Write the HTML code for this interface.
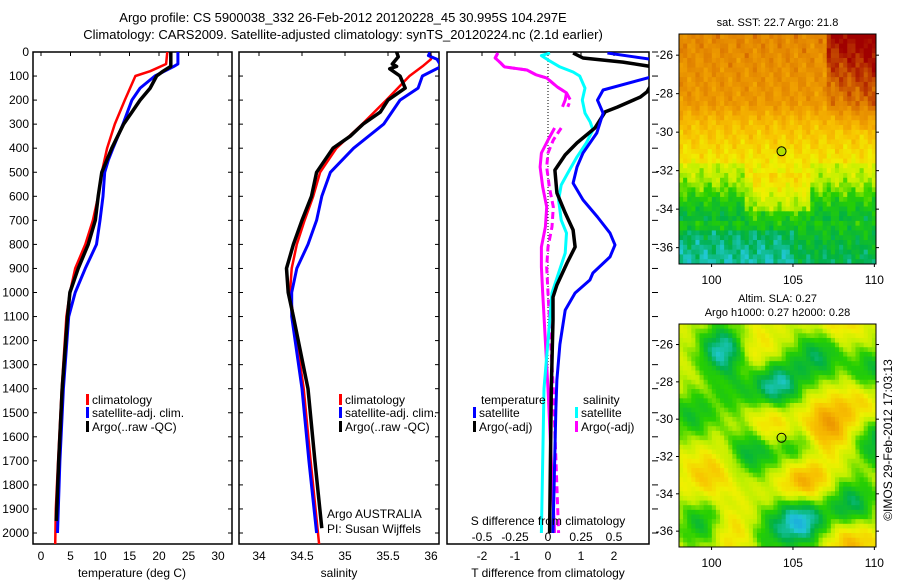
<!DOCTYPE html>
<html><head><meta charset="utf-8"><style>
body{margin:0;background:#fff}
svg{display:block;font-family:"Liberation Sans",sans-serif}
</style></head><body>
<svg id="fig" width="900" height="580" viewBox="0 0 900 580" xmlns="http://www.w3.org/2000/svg">
<rect width="900" height="580" fill="#fff"/>
<text x="343" y="22" font-size="13" text-anchor="middle">Argo profile: CS 5900038_332 26-Feb-2012 20120228_45 30.995S 104.297E</text>
<text x="343" y="39" font-size="13" text-anchor="middle">Climatology: CARS2009. Satellite-adjusted climatology: synTS_20120224.nc (2.1d earlier)</text>
<g id="g"></g>
<text transform="translate(892,440) rotate(-90)" font-size="12" text-anchor="middle">©IMOS 29-Feb-2012 17:03:13</text>
</svg>
<script>
// ---------- data ----------
const tClimDepth=[0,50,80,100,200,300,400,500,600,700,800,900,1000,1100,1400,1700,1900,2050];
const tClim=[21.4,21.2,18.5,16,14.2,12.5,11.2,10.3,9.7,8.8,7.5,5.8,4.9,4.3,3.5,2.9,2.5,2.4];
const tSatDepth=[0,50,60,100,150,200,300,400,450,500,600,700,800,900,1000,1100,1400,1700,2000];
const tSat=[23.2,23.2,22.5,19.3,16.8,15.4,13.9,12.2,11.4,10.8,10.5,10,9.4,7.5,5.8,4.7,3.8,3.2,2.8];
const tArgoDepth=[0,60,80,100,150,200,250,300,400,500,600,700,800,900,1000,1100,1400,1700,1950];
const tArgo=[22,22,20.7,19.6,18.5,16.8,15.4,14,12,10.3,9.7,9.2,8,6.3,4.9,4.5,3.6,3.0,2.6];

const sClimDepth=[0,30,60,100,200,300,400,500,600,700,800,900,1000,1100,1400,1700,2050];
const sClim=[35.99,36.0,35.9,35.75,35.48,35.2,34.9,34.71,34.63,34.53,34.44,34.38,34.36,34.4,34.52,34.6,34.7];
const sSatDepth=[0,15,30,60,100,150,200,300,400,500,600,700,800,900,1000,1100,1400,1700,2000];
const sSat=[35.99,35.97,36.07,36.12,35.9,35.85,35.64,35.45,35.1,34.83,34.73,34.67,34.57,34.44,34.38,34.38,34.5,34.58,34.67];
const sArgoDepth=[0,20,50,60,70,100,150,200,250,300,350,400,500,600,700,800,900,1000,1100,1400,1700,1980];
const sArgo=[35.6,35.62,35.55,35.6,35.52,35.64,35.7,35.5,35.41,35.21,35.06,34.86,34.67,34.61,34.5,34.4,34.32,34.34,34.4,34.57,34.65,34.73];

const dTsatDepth=[4,20,40,60,90,158,200,254,337,420,478,545,615,686,753,802,852,919,948,1002,1073,1216,1362,1480,2000];
const dTsat=[1.8,2.6,3.6,3.6,3.5,1.67,1.5,1.67,1.48,1.06,0.88,0.76,1.06,1.5,1.88,2.03,1.88,1.36,1.27,0.82,0.52,0.36,0.27,0.24,0.15];
const dTargoDepth=[4,25,42,62,120,166,187,229,249,316,378,428,491,586,669,740,811,877,969,1019,1114,1400,2000];
const dTargo=[0.76,1.06,2.27,3.2,3.2,3.0,2.8,2.1,1.73,1.42,0.88,0.52,0.21,0.27,0.52,0.76,0.82,0.58,0.27,0.15,0.15,0.1,0.05];
const dSsatDepth=[4,15,33,62,83,100,150,200,254,291,324,378,436,503,553,615,699,753,836,919,1002,1400,2000];
const dSsat=[0.015,-0.05,0,0.09,0.19,0.24,0.28,0.26,0.28,0.32,0.34,0.29,0.22,0.15,0.1,0.08,0.1,0.14,0.13,0.08,0.03,-0.03,-0.05];
const dSargoDepth=[4,25,45,62,75,95,108,145,170,200,228,228,316,366,420,478,561,644,727,811,894,1002,1400,2000];
const dSargo=[-0.38,-0.4,-0.36,-0.33,-0.16,-0.09,-0.01,0.07,0.14,0.13,0.11,null,0.05,0,-0.05,-0.06,-0.04,-0.01,-0.02,-0.05,-0.05,-0.04,0,0.05];
const dSargoAdj=[-0.38,-0.4,-0.36,-0.33,-0.16,-0.09,-0.01,0.07,0.14,0.17,0.15,null,0.1,0.04,0,-0.01,0.01,0.04,0.03,0,-0.01,0.0,0.04,0.08];

const depthTicks=[0,100,200,300,400,500,600,700,800,900,1000,1100,1200,1300,1400,1500,1600,1700,1800,1900,2000];
const tTicks=[0,5,10,15,20,25,30];
const sTicks=[34,34.5,35,35.5,36];
const sTickLabels=["34","34.5","35","35.5","36"];
const dtTicks=[-2,-1,0,1,2];
const dsTicks=[-0.5,-0.25,0,0.25,0.5];
const dsTickLabels=["-0.5","-0.25","0","0.25","0.5"];
const latTicks=[-26,-28,-30,-32,-34,-36];
const lonTicks=[100,105,110];
const argoLon=104.297, argoLat=-30.995;
// SST latitude profile (normalised colour level)
const sstLat=[-24.9,-28.5,-29.5,-31,-32.5,-33.5,-35,-36.9];
const sstLvl=[0.84,0.8,0.72,0.66,0.6,0.52,0.43,0.37];
// SLA blobs: lon, lat, amplitude
const slaLon=[100.8,104,106.5,109.8,102.6,105.3,110.2,105.5,108.6,99.5,98.8,103.6,107,105.7,102.5,99.8,109.2,108.6,101.2,103.5,101.5,107.8];
const slaLat=[-26.3,-28.2,-26.6,-27.5,-31.6,-31.5,-31.2,-35.4,-34.6,-35.6,-29.8,-30.4,-30.4,-33.3,-26.4,-33,-29,-36.6,-36,-36.1,-28.6,-24.6];
const slaAmp=[-0.3,-0.28,-0.2,-0.18,-0.22,-0.18,-0.2,-0.32,-0.22,-0.18,-0.15,0.18,0.22,0.22,0.12,0.12,0.12,0.16,0.12,-0.12,-0.1,0.1];

// ---------- scales ----------
const NS="http://www.w3.org/2000/svg";
const G=document.getElementById('g');
function el(tag,attrs,parent){const e=document.createElementNS(NS,tag);for(const k in attrs)e.setAttribute(k,attrs[k]);(parent||G).appendChild(e);return e;}
const yD=d=>52+d*0.2405;
const PB=544;
const xT=t=>41+t*5.9;
const xS=s=>259+(s-34)*86;
const xDT=v=>548+v*33;
const xDS=v=>548+v*132;

function clip(id,x0,x1){const c=el('clipPath',{id:id});el('rect',{x:x0,y:52,width:x1-x0,height:PB-52},c);}
clip('c1',33,232);clip('c2',239,439);clip('c3',447,649);

function line(depths,vals,xf,color,w,cp,name,dash){
  let d='',pen=false;
  for(let i=0;i<depths.length;i++){
    if(vals[i]===null){pen=false;continue;}
    d+=(pen?'L':'M')+xf(vals[i]).toFixed(1)+','+yD(depths[i]).toFixed(1);pen=true;
  }
  const p=el('path',{d:d,fill:'none',stroke:color,'stroke-width':w,'clip-path':'url(#'+cp+')','stroke-linejoin':'round'});
  if(dash)p.setAttribute('stroke-dasharray',dash);
  
  
}
function frame(x0,x1,name){
  const r=el('rect',{x:x0,y:52,width:x1-x0,height:PB-52,fill:'none',stroke:'#000','stroke-width':1.5});
  
  
  depthTicks.forEach(d=>{el('line',{x1:x0,x2:x0+4,y1:yD(d),y2:yD(d),stroke:'#000'});el('line',{x1:x1-4,x2:x1,y1:yD(d),y2:yD(d),stroke:'#000'});});
}
function xticks(ticks,labels,xf,y,name){
  ticks.forEach((t,i)=>{
    el('line',{x1:xf(t),x2:xf(t),y1:52,y2:56,stroke:'#000'});
    const tx=el('text',{x:xf(t),y:y,'font-size':12,'text-anchor':'middle'});
    tx.textContent=labels[i];
    
    
  });
}
function txt(x,y,s,name,anchor,size){
  const t=el('text',{x:x,y:y,'font-size':size||12,'text-anchor':anchor||'start'});t.textContent=s;
  
  
}
function legend(x,y,color,label,name){
  el('rect',{x:x,y:y-10,width:3,height:11,fill:color});
  txt(x+6,y,label,name);
}

depthTicks.forEach(d=>{
  const t=el('text',{x:29,y:yD(d)+4,'font-size':12,'text-anchor':'end'});t.textContent=String(d);
  
  
});

// panel 1
frame(33,232,'temperature-panel');
line(tClimDepth,tClim,xT,'#f00',2.5,'c1','temperature-climatology-line');
line(tSatDepth,tSat,xT,'#00f',3,'c1','temperature-satellite-line');
line(tArgoDepth,tArgo,xT,'#000',3.5,'c1','temperature-argo-line');
xticks(tTicks,tTicks.map(String),xT,560,'temperature-tick-label');
txt(132,577,'temperature (deg C)','temperature-axis-title','middle');
legend(86,404,'#f00','climatology','legend-climatology');
legend(86,417,'#00f','satellite-adj. clim.','legend-satellite');
legend(86,431,'#000','Argo(..raw -QC)','legend-argo');

// panel 2
frame(239,439,'salinity-panel');
line(sClimDepth,sClim,xS,'#f00',2.5,'c2','salinity-climatology-line');
line(sSatDepth,sSat,xS,'#00f',3,'c2','salinity-satellite-line');
line(sArgoDepth,sArgo,xS,'#000',3.5,'c2','salinity-argo-line');
xticks(sTicks,sTickLabels,xS,560,'salinity-tick-label');
txt(339,577,'salinity','salinity-axis-title','middle');
legend(339,404,'#f00','climatology','legend-climatology');
legend(339,417,'#00f','satellite-adj. clim.','legend-satellite');
legend(339,431,'#000','Argo(..raw -QC)','legend-argo');
txt(327,518,'Argo AUSTRALIA','argo-program-label');
txt(327,533,'PI: Susan Wijffels','pi-label');

// panel 3
el('rect',{x:447,y:52,width:202,height:PB-52,fill:'none',stroke:'#000','stroke-width':1.5});
depthTicks.forEach(d=>el('line',{x1:652,x2:658,y1:yD(d),y2:yD(d),stroke:'#000'}));
[-2,-1,0,1,2].forEach(t=>el('line',{x1:xDT(t),x2:xDT(t),y1:52,y2:56,stroke:'#000'}));
el('line',{x1:548,x2:548,y1:52,y2:yD(1400),stroke:'#000','stroke-dasharray':'1 2'});
line(dSargoDepth,dSargoAdj,xDS,'#f0f',3,'c3','salinity-diff-argo-adj-line','7 4');
line(dSargoDepth,dSargo,xDS,'#f0f',3,'c3','salinity-diff-argo-line');
line(dSsatDepth,dSsat,xDS,'#0ff',3,'c3','salinity-diff-satellite-line');
line(dTargoDepth,dTargo,xDT,'#000',3.5,'c3','temperature-diff-argo-line');
line(dTsatDepth,dTsat,xDT,'#00f',3,'c3','temperature-diff-satellite-line');
dtTicks.forEach(t=>{txt(xDT(t),560,String(t),'t-diff-tick-label','middle');});
dsTicks.forEach((t,i)=>{txt(xDS(t),541,dsTickLabels[i],'s-diff-tick-label','middle');});
txt(548,525,'S difference from climatology','s-diff-axis-title','middle');
txt(548,577,'T difference from climatology','t-diff-axis-title','middle');
txt(481,404,'temperature','legend-temperature-header');
legend(473,417,'#00f','satellite','legend-t-satellite');
legend(473,431,'#000','Argo(-adj)','legend-t-argo');
txt(583,404,'salinity','legend-salinity-header');
legend(575,417,'#0ff','satellite','legend-s-satellite');
legend(575,431,'#f0f','Argo(-adj)','legend-s-argo');

// ---------- maps ----------
const stops=[[0,[16,80,255]],[0.3,[32,200,210]],[0.38,[0,176,72]],[0.48,[40,208,0]],[0.55,[192,240,0]],[0.62,[240,240,0]],[0.7,[248,196,0]],[0.78,[240,160,0]],[0.86,[224,128,0]],[0.93,[192,64,0]],[1,[160,0,0]]];
function cmap(v){v=Math.max(0,Math.min(1,v));for(let i=1;i<stops.length;i++){if(v<=stops[i][0]){const a=stops[i-1],b=stops[i],f=(v-a[0])/(b[0]-a[0]);return 'rgb('+a[1].map((c,j)=>Math.round(c+(b[1][j]-c)*f)).join(',')+')';}}return 'rgb(160,0,0)';}
function interpLat(lat){
  for(let i=1;i<sstLat.length;i++){if(lat>=sstLat[i]){const f=(lat-sstLat[i-1])/(sstLat[i]-sstLat[i-1]);return sstLvl[i-1]+(sstLvl[i]-sstLvl[i-1])*f;}}
  return sstLvl[sstLvl.length-1];
}
function sst(lon,lat){
  let v=interpLat(lat);
  v+=0.025*Math.sin(lon*5.1+lat*3.3)+0.02*Math.sin(lon*7.7-lat*4.1)+0.012*Math.sin(lon*13.3+lat*11.1);
  if(lon>107&&lat>-29.8)v+=0.05*(lon-107)/3+0.03*Math.max(0,lat+29.8);
  if(lon<105&&lat<-35)v-=0.05;
  if(lon<102&&lat<-31.5&&lat>-34.5)v-=0.06;
  if(lon>106&&lat<-31.5&&lat>-34.5)v-=0.05;
  if(lon>102.5&&lon<106&&lat<-32&&lat>-34)v+=0.05;
  return v;
}
function sla(lon,lat){let v=0.58;for(let i=0;i<slaLon.length;i++){const dx=(lon-slaLon[i])/1.5,dy=(lat-slaLat[i])/1.35;v+=slaAmp[i]*Math.exp(-(dx*dx+dy*dy));}return v+0.02*Math.sin(lon*4.1+lat*3.7);}
function drawMap(x0,y0,w,h,fn,name,title1,title2){
  const lonA=98,lonB=110.1,latA=-24.9,latB=-36.85;
  const lx=lon=>x0+(lon-lonA)/(lonB-lonA)*w, ly=lat=>y0+(lat-latA)/(latB-latA)*h;
  const g=el('g',{});
  
  
  const nx=48,ny=48;
  for(let i=0;i<nx;i++)for(let j=0;j<ny;j++){
    const lon=lonA+(i+0.5)*(lonB-lonA)/nx, lat=latA+(j+0.5)*(latB-latA)/ny;
    el('rect',{x:(x0+i*w/nx).toFixed(2),y:(y0+j*h/ny).toFixed(2),width:(w/nx+0.5).toFixed(2),height:(h/ny+0.5).toFixed(2),fill:cmap(fn(lon,lat))},g);
  }
  el('rect',{x:x0,y:y0,width:w,height:h,fill:'none',stroke:'#000','stroke-width':1},g);
  latTicks.forEach(l=>{el('line',{x1:x0-3,x2:x0,y1:ly(l),y2:ly(l),stroke:'#000'});el('line',{x1:x0+w,x2:x0+w+3,y1:ly(l),y2:ly(l),stroke:'#000'});txt(x0-6,ly(l)+4,String(l),'latitude-tick-label','end');});
  lonTicks.forEach(l=>{el('line',{x1:lx(l),x2:lx(l),y1:y0+h,y2:y0+h+3,stroke:'#000'});txt(lx(l),y0+h+20,String(l),'longitude-tick-label','middle');});
  el('ellipse',{cx:lx(argoLon),cy:ly(argoLat),rx:4.5,ry:4.5,fill:name==='sst-map'?'#b0e000':'none',stroke:'#000'},g);
  txt(x0+w/2,y0-(title2?22:8),title1,'map-title','middle',11);
  if(title2)txt(x0+w/2,y0-8,title2,'map-subtitle','middle',11);
}
drawMap(679,34,197,230,sst,'sst-map','sat. SST: 22.7 Argo: 21.8');
drawMap(679,324,197,223,sla,'sla-map','Altim. SLA: 0.27','Argo h1000: 0.27 h2000: 0.28');
</script>
</body></html>
